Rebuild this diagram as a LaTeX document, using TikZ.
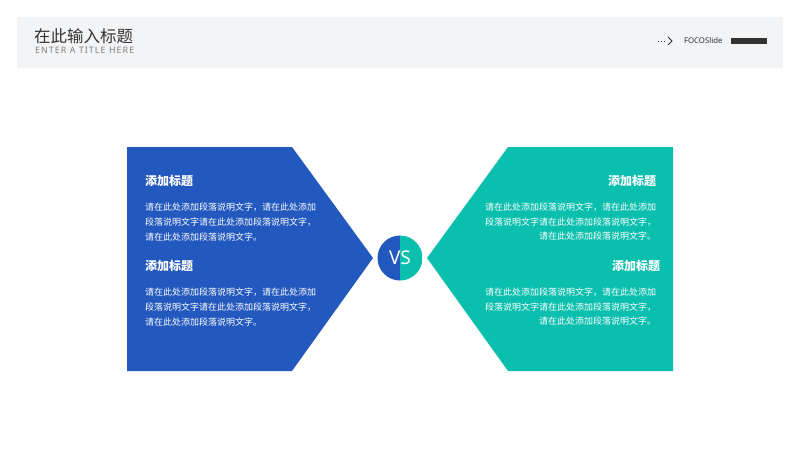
\documentclass[tikz,border=0pt]{standalone}
\usepackage{fontspec}
\setmainfont{Noto Sans}
\newfontfamily\cjk{Noto Sans CJK SC}
\newfontfamily\spaced[LetterSpace=12]{Noto Sans}
\usetikzlibrary{positioning}
\definecolor{vsblue}{HTML}{2358BE}
\definecolor{vsteal}{HTML}{0BBFAE}
\definecolor{bandgray}{HTML}{F3F4F6}
\definecolor{titlegray}{HTML}{333333}
\tikzstyle{every node}+=[inner sep=0pt,outer sep=0pt]
\tikzstyle{head}=[font=\cjk\bfseries\fontsize{12}{14}\selectfont,text=white]
\tikzstyle{body}=[font=\cjk\fontsize{9}{14.6}\selectfont,text=white]
\newcommand{\bodytext}{请在此处添加段落说明文字，请在此处添加\\段落说明文字请在此处添加段落说明文字，\\请在此处添加段落说明文字。}

\begin{document}
\begin{tikzpicture}[x=1pt,y=-1pt]
\useasboundingbox (0,0) rectangle (800,450);
% header band
\fill[bandgray] (17,17) rectangle (783,68);
\node[anchor=west,font=\cjk\fontsize{16.5}{18}\selectfont,text=titlegray] (title) at (34,36) {在此输入标题};
\node[anchor=west,font=\spaced\fontsize{8.9}{9}\selectfont,text=gray] (subtitle) at (35,50) {ENTER A TITLE HERE};
\draw[titlegray,dotted,line width=0.8pt] (658,41) -- (666,41);
\draw[titlegray,line width=0.8pt] (668,37) -- (672,41) -- (668,45);
\node[anchor=west,font=\fontsize{7.8}{8}\selectfont,text=titlegray] (brand) at (684,41) {FOCOSlide};
\fill[titlegray] (731,38) rectangle (767,44);

% two panels
\fill[vsblue] (127,147) -- (292,147) -- (373,258) -- (292,371) -- (127,371) -- cycle;
\fill[vsteal] (673,147) -- (508,147) -- (427,258) -- (508,371) -- (673,371) -- cycle;

% vs badge
\coordinate (vsc) at (400,258);
\begin{scope}
\clip (vsc) circle[radius=22.5];
\fill[vsblue] (377,235) rectangle (vsc |- 0,281);
\fill[vsteal] (vsc |- 0,235) rectangle (423,281);
\end{scope}
\node[font=\fontsize{19}{20}\selectfont,text=white] (vs) at (vsc) {VS};

\foreach \n/\y/\rx in {1/181/656,2/266/660}{
	\node[head,anchor=west] (lhead\n) at (145,\y) {添加标题};
	\node[body,align=left,below=16.5pt of lhead\n.south west,anchor=north west] (lbody\n) {\bodytext};
	\node[head,anchor=east] (rhead\n) at (\rx,\y) {添加标题};
	\node[body,align=right,anchor=north east] (rbody\n) at (656,\y+22) {\bodytext};
}
\end{tikzpicture}
\end{document}
